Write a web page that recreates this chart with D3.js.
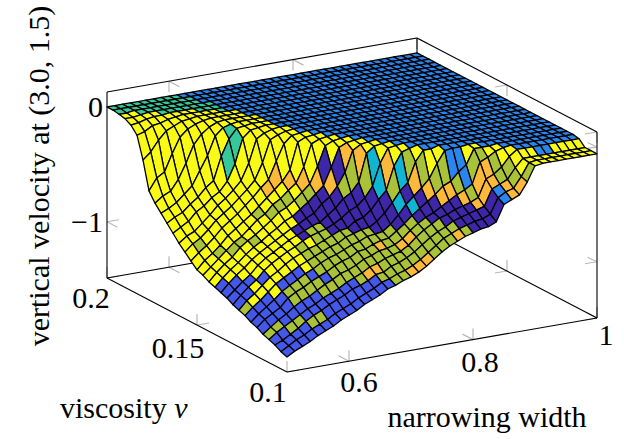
<!DOCTYPE html>
<html><head><meta charset="utf-8">
<script src="https://cdnjs.cloudflare.com/ajax/libs/d3/7.8.5/d3.min.js"></script>
<style>html,body{margin:0;padding:0;background:#fff}svg{display:block}text{font-family:"Liberation Serif",serif;font-size:30px;fill:#000}</style>
</head><body><svg id="c" width="624" height="439"></svg>
<script>
const widthTicks=[0.6,0.8,1], widthTickLabels=["0.6","0.8","1"];
const nuTicks=[0.1,0.15,0.2], nuTickLabels=["0.1","0.15","0.2"];
const zTicks=[0,-1], zTickLabels=["0","\u22121"];
// depth below zero, in hundredths, one list per narrowing width sample, from nu = 0.1 upward; missing = 0
const depth=[
[136,134,131,129,127,124,122,119,117,115,112,110,108,106,103,101,96,91,86,80,74,68,62,54,30,11,5,2,1],
[132,130,128,124,122,118,116,113,110,108,106,103,101,99,97,94,90,85,81,76,70,65,57,44,24,9,4,2,1],
[129,126,124,120,117,114,111,108,105,102,100,97,95,93,91,89,85,81,78,72,67,61,54,40,15,5,2,1],
[126,123,120,116,113,110,106,102,99,97,95,92,90,88,85,83,79,75,72,65,61,55,45,25,8,4,1],
[122,119,115,112,108,103,100,96,93,90,88,86,84,81,79,76,72,68,66,61,56,49,32,12,5,2,1],
[119,116,111,108,104,99,96,92,89,85,83,81,79,76,75,71,67,63,59,55,49,37,17,6,2,1],
[116,113,108,105,101,96,92,88,84,81,79,77,75,72,69,66,62,58,54,51,44,25,9,3,1],
[112,109,104,101,97,92,88,84,80,77,75,73,70,67,63,61,56,52,48,43,24,9,4,1],
[109,106,101,98,93,89,85,81,77,74,71,69,66,62,59,55,50,46,41,29,10,3,1],
[106,103,98,95,90,86,81,78,74,70,68,65,61,56,52,49,43,39,27,8,2,1],
[102,99,94,91,86,82,78,75,72,67,65,62,58,53,48,43,37,25,7,2,1],
[99,96,92,88,84,79,76,72,69,65,62,58,53,48,42,37,22,6,3,1],
[96,93,89,85,81,77,73,70,66,63,60,55,48,42,37,28,8,3,1],
[92,89,85,81,77,73,70,66,63,60,55,48,42,36,24,5,2,1],
[90,87,84,79,75,72,68,64,62,56,50,43,36,22,5,2,1],
[87,84,80,76,72,69,65,62,57,51,43,35,21,5,2,1],
[85,82,78,74,71,67,64,61,55,48,39,24,5,2,1],
[82,79,75,72,69,66,63,57,50,42,31,6,2,1],
[78,75,71,68,65,61,58,51,42,33,7,2,1],
[73,70,66,62,59,56,51,43,35,14,2,1],
[68,65,61,57,54,50,43,34,15,2,1],
[64,60,57,53,50,45,37,28,4,1],
[61,57,54,49,47,40,31,11,2],
[58,54,50,47,43,35,24,2],
[56,52,48,44,39,29,12,2],
[54,50,46,42,35,26,2],
[53,49,44,40,32,19,1],
[50,46,42,37,28,14,1],
[36,33,28,22,10,1],
[33,29,25,19,7,1],
[30,27,22,14,3,1],
[20,18,13,6,1],
[7,7,6,1],
[6,6,6,1],
[6,6,6,1],
[6,6,6,1],
[6,6,6,1],
[6,6,6,1],
[6,6,6,1],
[6,6,6,1],
[6,6,6,1]
];
// colour class of each cell, one string per width interval; missing = B
const meta=[
"RRRLRRRLRRRRYYYYYYYYYYYYYYYYTT",
"RRRLRRRYRRRYYYYYLYYYYYYYYYYYTT",
"RRLRRRRYYRYYYYLYYYYYYYYYYYYTTT",
"RRLRRRYYRYYYYLYYYYYYYYYYYYYTTT",
"RLRRLLRYYYYYYLYYYYYYYYYYYYTTTT",
"RLRRLLRYYYYYLYYYYYYYYYYYYYTTTT",
"RRRRLLRYYYYYYYYYYYYYYYYYYYTTTT",
"RRRLLRYYYYYYYYLYYYYTYYYYYYTTTT",
"RRRLRLLLLYYYYLYYYYYTTYYYYTTTTT",
"RRRLLLLLYIIYYLYOYYYYYYYYYTTTTB",
"RRRLLLLLLLIIYLYOYYYYYYYYTTTBBB",
"RRLLLLLLLLIILYOYYYYYYYYYBBBBBB",
"RROLLLLLIIIILOYYYYYYYYBBBBBBBB",
"RLOLLLLLIIIIOYYYYY",
"LLLLLLLIIIIOIYYY",
"LLLLOLLIIILIYYY",
"OLLLLLIIIILOYY",
"OLLOLLIIILOYY",
"OLLOLIIICCYY",
"LLLLLICLOYY",
"LLLLICICYY",
"LLLIIIOLY",
"OLIIIOLY",
"LIIIOLY",
"IIIIOLY",
"IIIOLB",
"IIOLBB",
"IIOOLY",
"BBOOLY",
"OOLLY",
"OLLYY",
"LYYY",
"YYY",
"YYY",
"YYB",
"YYB",
"YYY",
"YYY",
"YYY",
"YYY"
];
const classes=["Y","O","L","I","R","B","T","C"];
const classColors=["#f9fb15","#fcb93a","#a9c237","#3e26a8","#4358e8","#2a85ee","#35c89b","#10b5d3"];
const widthDomain=[0.5,1], nuDomain=[0.1,0.2], zDomain=[-1.49,0.13];

const fill=d3.scaleOrdinal(classes,classColors);
const sx=d3.scaleLinear().domain(widthDomain).range([0,1]);
const sy=d3.scaleLinear().domain(nuDomain).range([0,1]);
const sz=d3.scaleLinear().domain(zDomain).range([0,1]);
const nW=depth.length-1, nN=30;
const wAt=d3.scaleLinear().domain([0,nW]).range(widthDomain);
const nAt=d3.scaleLinear().domain([0,nN]).range(nuDomain);
const P=(w,n,z)=>{const a=sx(w),b=sy(n),c=sz(z);return [287+310*a-180*b,372-54*a-94*b-186*c];};
const svg=d3.select("#c");
const [w0,w1]=widthDomain,[n0,n1]=nuDomain,[z0,z1]=zDomain;
function seg(g,a,b,col,sw){g.append("line").attr("x1",a[0]).attr("y1",a[1]).attr("x2",b[0]).attr("y2",b[1]).attr("stroke",col).attr("stroke-width",sw);}
const grid=svg.append("g");
const tick=(p,dx,dy)=>seg(grid,p,[p[0]+dx,p[1]+dy],"#b8b8b8",1.2);
const nuDir=[10.5,5.5], wDir=[12,-2];
widthTicks.forEach(w=>{
  let p=P(w,n1,z1); tick(p,0,11); tick(p,nuDir[0],nuDir[1]);
  p=P(w,n1,z0); tick(p,0,-11); tick(p,nuDir[0],nuDir[1]);
  p=P(w,n0,z0); tick(p,0,-11); tick(p,-nuDir[0],-nuDir[1]);
});
nuTicks.forEach(n=>{
  let p=P(w1,n,z1); tick(p,0,11); tick(p,-wDir[0],-wDir[1]);
  p=P(w1,n,z0); tick(p,0,-11); tick(p,-wDir[0],-wDir[1]);
  p=P(w0,n,z0); tick(p,0,-11); tick(p,wDir[0],wDir[1]);
});
zTicks.forEach(z=>{
  let p=P(w0,n1,z); tick(p,wDir[0],wDir[1]); tick(p,nuDir[0],nuDir[1]);
  p=P(w1,n0,z); tick(p,-wDir[0],-wDir[1]); tick(p,-nuDir[0]+1,-nuDir[1]+1);
});
[[[w0,n1,z1],[w1,n1,z1]],[[w1,n1,z1],[w1,n0,z1]],[[w0,n1,z1],[w0,n1,z0]],[[w1,n0,z1],[w1,n0,z0]],
 [[w0,n1,z0],[w0,n0,z0]],[[w0,n0,z0],[w1,n0,z0]],[[w0,n1,z0],[w1,n1,z0]],[[w1,n1,z0],[w1,n0,z0]],[[w1,n1,z0],[w1,n1,z1]]]
 .forEach(([a,b])=>seg(grid,P(...a),P(...b),"#000",1.1));
const vertex=(j,i)=>P(wAt(j),nAt(i),-(depth[j][i]||0)/100);
const surf=svg.append("g").attr("stroke","#000").attr("stroke-width",1.3).attr("stroke-linejoin","round");
for(let i=nN-1;i>=0;i--){for(let j=nW-1;j>=0;j--){
  const pts=[vertex(j,i),vertex(j+1,i),vertex(j+1,i+1),vertex(j,i+1)];
  surf.append("path").attr("d",d3.line()(pts)+"Z").attr("fill",fill(meta[j][i]||"B"));
}}
const T=(x,y,s,a)=>svg.append("text").attr("x",x).attr("y",y).attr("text-anchor",a||"middle").text(s);
zTickLabels.forEach((s,k)=>T(103,P(w0,n1,zTicks[k])[1]+10,s,"end"));
const nuPos=[[268,402],[178,358],[91,308]];
nuTickLabels.forEach((s,k)=>T(nuPos[k][0],nuPos[k][1],s));
const wPos=[[359,392],[480,372],[606,345]];
widthTickLabels.forEach((s,k)=>T(wPos[k][0],wPos[k][1],s));
T(487,427,"narrowing width");
const v=T(60,418,"viscosity ","start");v.append("tspan").attr("font-style","italic").text("\u03bd");
svg.append("text").attr("transform","translate(49,176) rotate(-90)").attr("text-anchor","middle").text("vertical velocity at (3.0, 1.5)");
</script></body></html>
